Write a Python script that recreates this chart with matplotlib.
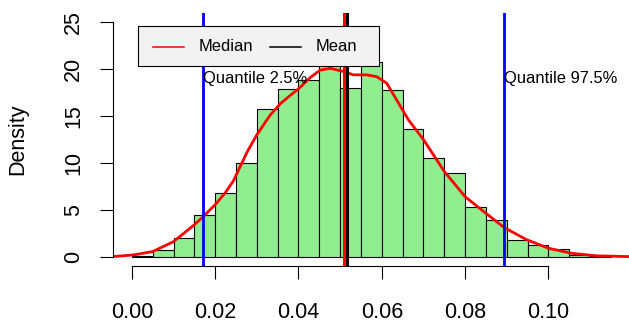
import matplotlib
matplotlib.use("Agg")
import matplotlib.pyplot as plt
from matplotlib.patches import Rectangle
from matplotlib.lines import Line2D

plt.rcParams['font.family'] = ['Liberation Sans', 'DejaVu Sans']

# histogram (density scale), bins of 0.005
bin_starts = [0.000, 0.005, 0.010, 0.015, 0.020, 0.025, 0.030, 0.035, 0.040, 0.045, 0.050, 0.055,
              0.060, 0.065, 0.070, 0.075, 0.080, 0.085, 0.090, 0.095, 0.100, 0.105, 0.110]
bin_density = [0.1, 0.7, 2.0, 4.4, 6.8, 10.0, 15.8, 17.9, 18.9, 21.2, 18.0, 20.8,
               17.8, 13.6, 10.5, 8.9, 5.3, 3.9, 1.8, 1.2, 0.8, 0.2, 0.05]
bin_width = 0.005

# kernel density curve
kde_x = [-0.0046, 0.0004, 0.005, 0.010, 0.015, 0.0172, 0.020, 0.0224, 0.0244, 0.026, 0.0276, 0.030,
         0.0332, 0.0356, 0.038, 0.040, 0.0428, 0.0452, 0.0476, 0.0504, 0.0532, 0.0564, 0.0588, 0.0612,
         0.0636, 0.0664, 0.070, 0.075, 0.080, 0.0848, 0.0894, 0.0948, 0.100, 0.1055, 0.1115, 0.1196]
kde_y = [0.0, 0.18, 0.54, 1.6, 3.4, 4.3, 5.54, 6.8, 8.1, 9.6, 11.1, 13.0,
         15.1, 16.3, 17.2, 17.9, 19.1, 19.9, 20.1, 19.8, 19.4, 19.4, 19.2, 18.5,
         16.7, 14.6, 12.5, 9.1, 6.4, 4.7, 3.1, 1.8, 0.9, 0.36, 0.09, 0.0]

q025 = 0.0170
q975 = 0.0894
mean_val = 0.0516
median_val = 0.0510

x_ticks = [0.00, 0.02, 0.04, 0.06, 0.08, 0.10]
x_tick_labels = ['0.00', '0.02', '0.04', '0.06', '0.08', '0.10']
y_ticks = [0, 5, 10, 15, 20, 25]

W, H = 629, 323
fig = plt.figure(figsize=(W / 100, H / 100), dpi=100)
ax = fig.add_axes([112.7 / W, 1 - 266 / H, (630 - 112.7) / W, (266 - 13) / H])

def px(x, y):
    return x / W, 1 - y / H

ax.bar(bin_starts, bin_density, width=bin_width, align='edge', color='#90EE90',
       edgecolor='black', linewidth=0.8)
ax.plot(kde_x, kde_y, color='red', linewidth=2.0, solid_joinstyle='round')

ax.axvline(q025, color='blue', linewidth=2.0)
ax.axvline(q975, color='blue', linewidth=2.0)
ax.axvline(mean_val, color='black', linewidth=2.2)
ax.axvline(median_val, color='red', linewidth=2.2)

ax.text(q025, 19, 'Quantile 2.5%', ha='left', va='center', fontsize=11.9)
ax.text(q975, 19, 'Quantile 97.5%', ha='left', va='center', fontsize=11.9)

ax.set_xlim(-0.0046, 0.1196)
ax.set_ylim(-1.0, 26.0)

# R style axes
for s in ['top', 'right']:
    ax.spines[s].set_visible(False)
ax.spines['left'].set_bounds(0, 25)
ax.spines['bottom'].set_bounds(0, 0.10)
ax.spines['left'].set_linewidth(0.8)
ax.spines['bottom'].set_linewidth(0.8)
ax.set_xticks(x_ticks)
ax.set_xticklabels(x_tick_labels)
ax.set_yticks(y_ticks)
ax.tick_params(axis='both', length=9.4, width=0.8, labelsize=15.5)
ax.tick_params(axis='x', pad=16.5)
ax.tick_params(axis='y', pad=11)
for lab in ax.get_yticklabels():
    lab.set_rotation(90)
    lab.set_va('center')

fig.text(*px(17.5, 139.5), 'Density', rotation=90, ha='center', va='center', fontsize=15.5)

# legend box
x0, y0 = px(138.3, 65.7)
x1, y1 = px(379.3, 26)
fig.add_artist(Rectangle((x0, y0), x1 - x0, y1 - y0, transform=fig.transFigure,
                         facecolor='#f2f2f2', edgecolor='black', linewidth=0.8))
ly = px(0, 46.5)[1]
fig.add_artist(Line2D([152.7 / W, 184.3 / W], [ly, ly], color='red', linewidth=1.1,
                      transform=fig.transFigure))
fig.add_artist(Line2D([270 / W, 300.7 / W], [ly, ly], color='black', linewidth=1.1,
                      transform=fig.transFigure))
fig.text(199 / W, ly, 'Median', ha='left', va='center', fontsize=11.9)
fig.text(315.7 / W, ly, 'Mean', ha='left', va='center', fontsize=11.9)

fig.savefig('out.png', dpi=100)
